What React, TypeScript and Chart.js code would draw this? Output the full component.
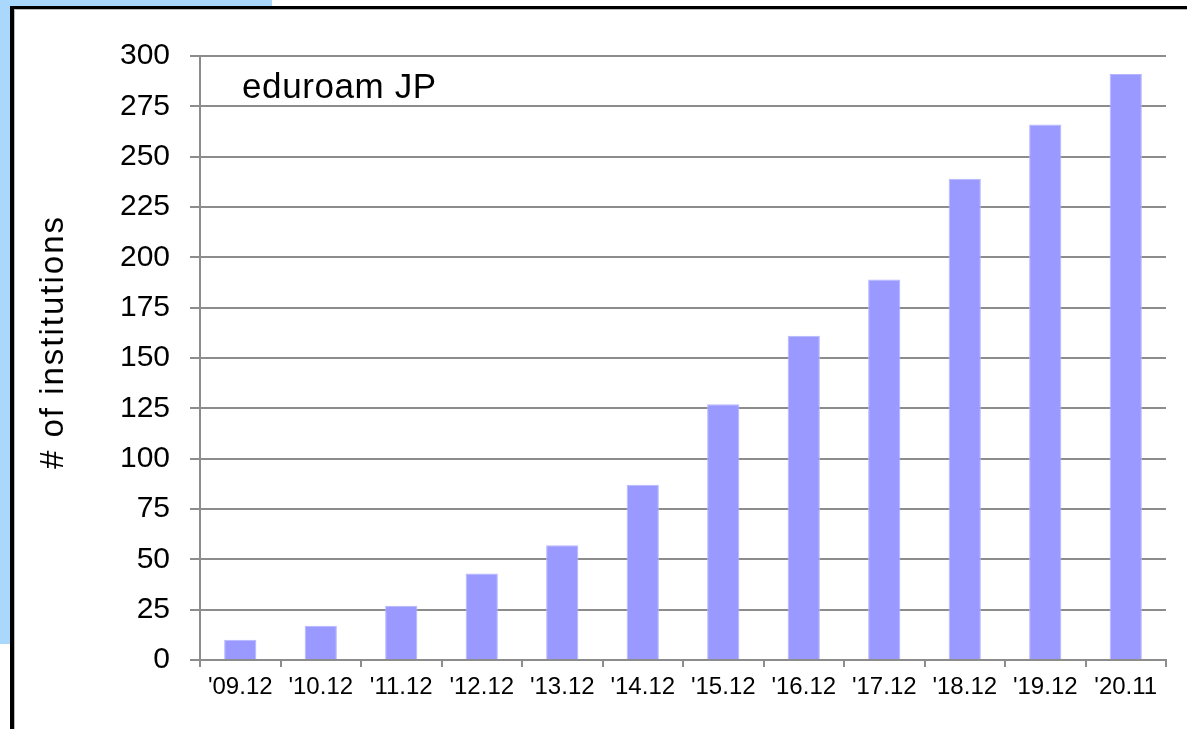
import React, { useEffect, useRef } from "react";
import { Chart, registerables } from "chart.js";

Chart.register(...registerables);

const categories = ["'09.12", "'10.12", "'11.12", "'12.12", "'13.12", "'14.12", "'15.12", "'16.12", "'17.12", "'18.12", "'19.12", "'20.11"];
const institutions = [10, 17, 27, 43, 57, 87, 127, 161, 189, 239, 266, 291];
const yTickValues = [0, 25, 50, 75, 100, 125, 150, 175, 200, 225, 250, 275, 300];
const chartLabel = "eduroam JP";
const yAxisTitle = "# of institutions";

const FONT = '"Liberation Sans", Arial, Helvetica, sans-serif';

export default function App() {
  const ref = useRef<HTMLCanvasElement>(null);

  useEffect(() => {
    document.body.style.margin = "0";
    const textPlugin = {
      id: "textPlugin",
      afterDraw(chart: any) {
        const { ctx, chartArea } = chart;
        ctx.save();
        ctx.font = `35px ${FONT}`;
        ctx.fillStyle = "#000";
        ctx.textBaseline = "alphabetic";
        ctx.textAlign = "left";
        (ctx as any).letterSpacing = "0.6px";
        ctx.fillText(chartLabel, chartArea.left + 42, chartArea.top + 42);
        ctx.restore();

        ctx.save();
        ctx.font = `33px ${FONT}`;
        ctx.fillStyle = "#000";
        (ctx as any).letterSpacing = "2px";
        ctx.translate(chartArea.left - 146, chartArea.top + 286);
        ctx.rotate(-Math.PI / 2);
        ctx.textAlign = "center";
        ctx.textBaseline = "middle";
        ctx.fillText(yAxisTitle, 0, 0);
        ctx.restore();
      },
    };
    const chart = new Chart(ref.current as HTMLCanvasElement, {
      type: "bar",
      data: {
        labels: categories,
        datasets: [
          {
            data: institutions,
            backgroundColor: "#9999ff",
            borderColor: "#b6b6ff",
            borderWidth: 1,
            barPercentage: 0.4,
            categoryPercentage: 1,
          },
        ],
      },
      options: {
        animation: false,
        responsive: false,
        layout: { padding: { left: 31, top: 56, right: 21, bottom: 29 } },
        plugins: { legend: { display: false }, tooltip: { enabled: false } },
        scales: {
          x: {
            grid: { drawOnChartArea: false, drawTicks: true, tickLength: 7, color: "#8c8c8c", lineWidth: 2, offset: true },
            border: { color: "#8c8c8c", width: 2 },
            ticks: { color: "#000", font: { family: FONT, size: 24 }, padding: 6, maxRotation: 0, autoSkip: false },
            afterFit: (s: any) => {
              s.height = 40;
            },
          },
          y: {
            min: 0,
            max: 300,
            afterBuildTicks: (s: any) => {
              s.ticks = yTickValues.map((v) => ({ value: v }));
            },
            ticks: { color: "#000", font: { family: FONT, size: 30 }, padding: 20 },
            grid: { color: "#8c8c8c", lineWidth: 2, tickLength: 10 },
            border: { color: "#8c8c8c", width: 2 },
            afterFit: (s: any) => {
              s.width = 169;
            },
          },
        },
      },
      plugins: [textPlugin],
    });
    return () => chart.destroy();
  }, []);

  return (
    <div style={{ position: "relative", width: 1187, height: 729, overflow: "hidden", background: "#fff" }}>
      <div style={{ position: "absolute", left: 0, top: 0, width: 272, height: 8, background: "#a9d8fc" }} />
      <div style={{ position: "absolute", left: 0, top: 0, width: 12, height: 644, background: "#a9d8fc" }} />
      <div
        style={{
          position: "absolute",
          left: 10,
          top: 6,
          width: 1200,
          height: 760,
          background: "#fff",
          borderTop: "3px solid #000",
          borderLeft: "4px solid #000",
          boxShadow: "inset 1px 1px 0 #bbb",
        }}
      />
      <canvas ref={ref} width={1187} height={729} style={{ position: "absolute", left: 0, top: 0 }} />
    </div>
  );
}
